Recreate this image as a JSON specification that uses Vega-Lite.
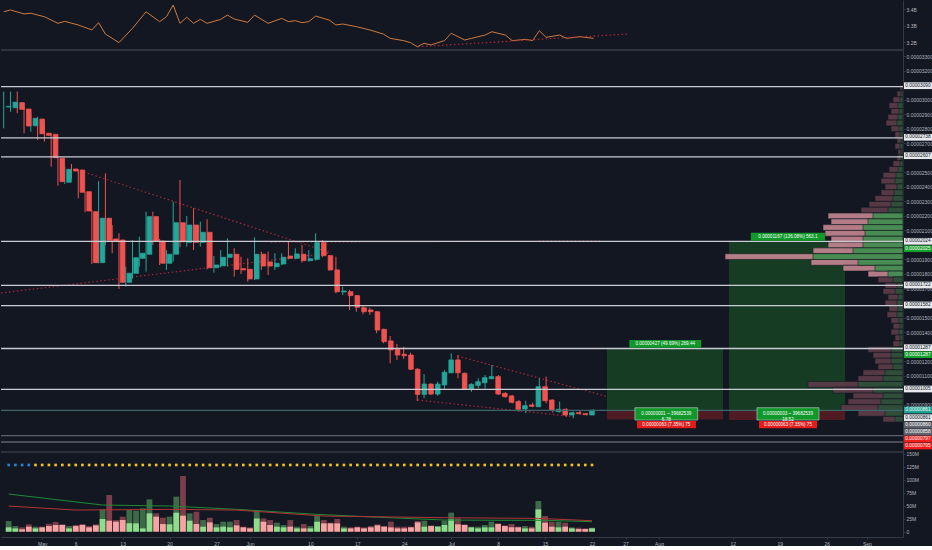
{
"$schema":"https://vega.github.io/schema/vega-lite/v6.json",
"background":"#131722",
"padding":0,
"spacing":0,
"bounds":"flush",
"config":{"font":"Liberation Sans","view":{"stroke":null},"axis":{"labelFont":"Liberation Sans","labelFontSize":5,"labelColor":"#b2b5be","domainColor":"#363a45","tickColor":"#363a45","tickSize":2,"labelPadding":1,"grid":false,"labelOverlap":false}},
"resolve":{"scale":{"x":"independent","y":"independent"}},
"datasets":{
"cd":[
{"t":"2019-04-26","o":2.950e-5,"h":3.056e-5,"l":2.803e-5,"c":2.955e-5,"vd":2.06e7,"vl":8.4e6,"s":0},
{"t":"2019-04-27","o":2.945e-5,"h":3.056e-5,"l":2.918e-5,"c":2.983e-5,"vd":1.09e7,"vl":6.4e6,"s":0},
{"t":"2019-04-28","o":2.980e-5,"h":3.056e-5,"l":2.907e-5,"c":2.934e-5,"vd":8.4e6,"vl":4.5e6,"s":0},
{"t":"2019-04-29","o":2.936e-5,"h":2.952e-5,"l":2.769e-5,"c":2.819e-5,"vd":1.42e7,"vl":9.7e6,"s":0},
{"t":"2019-04-30","o":2.821e-5,"h":2.907e-5,"l":2.780e-5,"c":2.872e-5,"vd":9.7e6,"vl":6.4e6,"s":1},
{"t":"2019-05-01","o":2.867e-5,"h":2.883e-5,"l":2.723e-5,"c":2.766e-5,"vd":9.7e6,"vl":8.4e6,"s":1},
{"t":"2019-05-02","o":2.769e-5,"h":2.831e-5,"l":2.711e-5,"c":2.755e-5,"vd":1.54e7,"vl":1.09e7,"s":1},
{"t":"2019-05-03","o":2.762e-5,"h":2.769e-5,"l":2.539e-5,"c":2.601e-5,"vd":1.87e7,"vl":1.29e7,"s":1},
{"t":"2019-05-04","o":2.597e-5,"h":2.601e-5,"l":2.408e-5,"c":2.436e-5,"vd":1.42e7,"vl":1.29e7,"s":1},
{"t":"2019-05-05","o":2.432e-5,"h":2.539e-5,"l":2.420e-5,"c":2.521e-5,"vd":1.09e7,"vl":6.4e6,"s":1},
{"t":"2019-05-06","o":2.523e-5,"h":2.558e-5,"l":2.459e-5,"c":2.509e-5,"vd":1.29e7,"vl":1.09e7,"s":1},
{"t":"2019-05-07","o":2.516e-5,"h":2.521e-5,"l":2.321e-5,"c":2.363e-5,"vd":1.48e7,"vl":1.29e7,"s":1},
{"t":"2019-05-08","o":2.367e-5,"h":2.367e-5,"l":2.225e-5,"c":2.234e-5,"vd":1.09e7,"vl":8.4e6,"s":1},
{"t":"2019-05-09","o":2.229e-5,"h":2.241e-5,"l":1.869e-5,"c":1.878e-5,"vd":1.42e7,"vl":1.22e7,"s":1},
{"t":"2019-05-10","o":1.878e-5,"h":2.440e-5,"l":1.874e-5,"c":2.184e-5,"vd":4.31e7,"vl":2.45e7,"s":1},
{"t":"2019-05-11","o":2.184e-5,"h":2.494e-5,"l":2.000e-5,"c":2.032e-5,"vd":7.08e7,"vl":2.12e7,"s":1},
{"t":"2019-05-12","o":2.041e-5,"h":2.137e-5,"l":1.943e-5,"c":2.027e-5,"vd":2.25e7,"vl":1.93e7,"s":1},
{"t":"2019-05-13","o":2.034e-5,"h":2.080e-5,"l":1.697e-5,"c":1.743e-5,"vd":2.90e7,"vl":2.25e7,"s":1},
{"t":"2019-05-14","o":1.743e-5,"h":1.850e-5,"l":1.713e-5,"c":1.805e-5,"vd":4.18e7,"vl":1.61e7,"s":1},
{"t":"2019-05-15","o":1.805e-5,"h":2.034e-5,"l":1.770e-5,"c":1.912e-5,"vd":4.05e7,"vl":1.61e7,"s":1},
{"t":"2019-05-16","o":1.908e-5,"h":2.057e-5,"l":1.850e-5,"c":1.943e-5,"vd":4.50e7,"vl":6.4e6,"s":1},
{"t":"2019-05-17","o":1.936e-5,"h":2.229e-5,"l":1.816e-5,"c":2.195e-5,"vd":6.24e7,"vl":3.54e7,"s":1},
{"t":"2019-05-18","o":2.195e-5,"h":2.229e-5,"l":2.000e-5,"c":2.027e-5,"vd":3.54e7,"vl":2.90e7,"s":1},
{"t":"2019-05-19","o":2.027e-5,"h":2.041e-5,"l":1.862e-5,"c":1.874e-5,"vd":2.70e7,"vl":1.48e7,"s":1},
{"t":"2019-05-20","o":1.874e-5,"h":1.965e-5,"l":1.828e-5,"c":1.936e-5,"vd":2.90e7,"vl":1.42e7,"s":1},
{"t":"2019-05-21","o":1.936e-5,"h":2.298e-5,"l":1.885e-5,"c":2.153e-5,"vd":6.76e7,"vl":3.67e7,"s":1},
{"t":"2019-05-22","o":2.153e-5,"h":2.447e-5,"l":1.984e-5,"c":2.022e-5,"vd":1.075e8,"vl":3.09e7,"s":1},
{"t":"2019-05-23","o":2.018e-5,"h":2.199e-5,"l":1.988e-5,"c":2.137e-5,"vd":3.54e7,"vl":2.12e7,"s":1},
{"t":"2019-05-24","o":2.137e-5,"h":2.252e-5,"l":1.965e-5,"c":2.018e-5,"vd":3.86e7,"vl":1.48e7,"s":1},
{"t":"2019-05-25","o":2.018e-5,"h":2.160e-5,"l":1.988e-5,"c":2.087e-5,"vd":2.25e7,"vl":9.7e6,"s":1},
{"t":"2019-05-26","o":2.087e-5,"h":2.177e-5,"l":1.832e-5,"c":1.843e-5,"vd":2.70e7,"vl":1.80e7,"s":1},
{"t":"2019-05-27","o":1.843e-5,"h":1.924e-5,"l":1.809e-5,"c":1.862e-5,"vd":1.48e7,"vl":8.4e6,"s":1},
{"t":"2019-05-28","o":1.857e-5,"h":1.965e-5,"l":1.846e-5,"c":1.915e-5,"vd":1.93e7,"vl":9.7e6,"s":1},
{"t":"2019-05-29","o":1.915e-5,"h":2.046e-5,"l":1.850e-5,"c":1.936e-5,"vd":1.93e7,"vl":8.4e6,"s":1},
{"t":"2019-05-30","o":1.936e-5,"h":1.977e-5,"l":1.781e-5,"c":1.832e-5,"vd":2.25e7,"vl":1.22e7,"s":1},
{"t":"2019-05-31","o":1.837e-5,"h":1.919e-5,"l":1.800e-5,"c":1.828e-5,"vd":9.7e6,"vl":8.4e6,"s":1},
{"t":"2019-06-01","o":1.832e-5,"h":1.908e-5,"l":1.747e-5,"c":1.766e-5,"vd":8.4e6,"vl":6.4e6,"s":1},
{"t":"2019-06-02","o":1.766e-5,"h":2.053e-5,"l":1.759e-5,"c":1.936e-5,"vd":4.05e7,"vl":2.57e7,"s":1},
{"t":"2019-06-03","o":1.936e-5,"h":1.954e-5,"l":1.828e-5,"c":1.855e-5,"vd":2.57e7,"vl":1.93e7,"s":1},
{"t":"2019-06-04","o":1.883e-5,"h":1.954e-5,"l":1.793e-5,"c":1.855e-5,"vd":2.25e7,"vl":1.29e7,"s":1},
{"t":"2019-06-05","o":1.850e-5,"h":1.943e-5,"l":1.828e-5,"c":1.874e-5,"vd":1.74e7,"vl":9.7e6,"s":1},
{"t":"2019-06-06","o":1.869e-5,"h":1.943e-5,"l":1.862e-5,"c":1.915e-5,"vd":1.29e7,"vl":8.4e6,"s":1},
{"t":"2019-06-07","o":1.924e-5,"h":2.022e-5,"l":1.901e-5,"c":1.908e-5,"vd":2.25e7,"vl":9.7e6,"s":1},
{"t":"2019-06-08","o":1.908e-5,"h":1.977e-5,"l":1.901e-5,"c":1.938e-5,"vd":9.7e6,"vl":6.4e6,"s":1},
{"t":"2019-06-09","o":1.936e-5,"h":2.000e-5,"l":1.878e-5,"c":1.892e-5,"vd":1.48e7,"vl":6.4e6,"s":1},
{"t":"2019-06-10","o":1.892e-5,"h":1.965e-5,"l":1.885e-5,"c":1.905e-5,"vd":1.09e7,"vl":6.4e6,"s":1},
{"t":"2019-06-11","o":1.901e-5,"h":2.080e-5,"l":1.892e-5,"c":2.016e-5,"vd":3.02e7,"vl":1.93e7,"s":1},
{"t":"2019-06-12","o":2.016e-5,"h":2.034e-5,"l":1.915e-5,"c":1.926e-5,"vd":2.25e7,"vl":1.61e7,"s":1},
{"t":"2019-06-13","o":1.926e-5,"h":1.931e-5,"l":1.823e-5,"c":1.828e-5,"vd":1.74e7,"vl":1.61e7,"s":1},
{"t":"2019-06-14","o":1.828e-5,"h":1.919e-5,"l":1.667e-5,"c":1.678e-5,"vd":2.45e7,"vl":1.61e7,"s":1},
{"t":"2019-06-15","o":1.676e-5,"h":1.713e-5,"l":1.655e-5,"c":1.683e-5,"vd":9.7e6,"vl":6.4e6,"s":1},
{"t":"2019-06-16","o":1.678e-5,"h":1.690e-5,"l":1.552e-5,"c":1.651e-5,"vd":8.4e6,"vl":6.4e6,"s":1},
{"t":"2019-06-17","o":1.651e-5,"h":1.655e-5,"l":1.540e-5,"c":1.571e-5,"vd":9.7e6,"vl":8.4e6,"s":1},
{"t":"2019-06-18","o":1.568e-5,"h":1.586e-5,"l":1.522e-5,"c":1.540e-5,"vd":8.4e6,"vl":6.4e6,"s":1},
{"t":"2019-06-19","o":1.552e-5,"h":1.568e-5,"l":1.518e-5,"c":1.540e-5,"vd":1.09e7,"vl":8.4e6,"s":1},
{"t":"2019-06-20","o":1.540e-5,"h":1.545e-5,"l":1.392e-5,"c":1.414e-5,"vd":1.42e7,"vl":1.22e7,"s":1},
{"t":"2019-06-21","o":1.419e-5,"h":1.423e-5,"l":1.323e-5,"c":1.334e-5,"vd":1.09e7,"vl":9.7e6,"s":1},
{"t":"2019-06-22","o":1.339e-5,"h":1.373e-5,"l":1.185e-5,"c":1.277e-5,"vd":1.93e7,"vl":8.4e6,"s":1},
{"t":"2019-06-23","o":1.281e-5,"h":1.318e-5,"l":1.208e-5,"c":1.242e-5,"vd":9.7e6,"vl":6.4e6,"s":1},
{"t":"2019-06-24","o":1.247e-5,"h":1.299e-5,"l":1.215e-5,"c":1.237e-5,"vd":9.7e6,"vl":6.4e6,"s":1},
{"t":"2019-06-25","o":1.242e-5,"h":1.258e-5,"l":1.139e-5,"c":1.144e-5,"vd":9.7e6,"vl":8.4e6,"s":1},
{"t":"2019-06-26","o":1.144e-5,"h":1.151e-5,"l":9.25e-6,"c":9.71e-6,"vd":2.06e7,"vl":1.80e7,"s":1},
{"t":"2019-06-27","o":9.71e-6,"h":1.111e-5,"l":9.44e-6,"c":1.042e-5,"vd":2.12e7,"vl":9.7e6,"s":1},
{"t":"2019-06-28","o":1.042e-5,"h":1.047e-5,"l":9.67e-6,"c":9.73e-6,"vd":1.22e7,"vl":1.09e7,"s":1},
{"t":"2019-06-29","o":9.73e-6,"h":1.058e-5,"l":9.62e-6,"c":1.042e-5,"vd":1.09e7,"vl":9.7e6,"s":1},
{"t":"2019-06-30","o":1.036e-5,"h":1.139e-5,"l":1.006e-5,"c":1.123e-5,"vd":2.12e7,"vl":1.29e7,"s":1},
{"t":"2019-07-01","o":1.120e-5,"h":1.254e-5,"l":1.116e-5,"c":1.208e-5,"vd":3.67e7,"vl":2.38e7,"s":1},
{"t":"2019-07-02","o":1.208e-5,"h":1.242e-5,"l":1.082e-5,"c":1.120e-5,"vd":2.57e7,"vl":1.42e7,"s":1},
{"t":"2019-07-03","o":1.116e-5,"h":1.120e-5,"l":1.001e-5,"c":1.006e-5,"vd":1.42e7,"vl":1.29e7,"s":1},
{"t":"2019-07-04","o":1.006e-5,"h":1.047e-5,"l":9.89e-6,"c":1.040e-5,"vd":9.7e6,"vl":8.4e6,"s":1},
{"t":"2019-07-05","o":1.033e-5,"h":1.082e-5,"l":1.013e-5,"c":1.058e-5,"vd":9.7e6,"vl":6.4e6,"s":1},
{"t":"2019-07-06","o":1.051e-5,"h":1.104e-5,"l":1.013e-5,"c":1.086e-5,"vd":1.29e7,"vl":8.4e6,"s":1},
{"t":"2019-07-07","o":1.079e-5,"h":1.173e-5,"l":1.075e-5,"c":1.093e-5,"vd":1.93e7,"vl":8.4e6,"s":1},
{"t":"2019-07-08","o":1.093e-5,"h":1.104e-5,"l":9.67e-6,"c":9.73e-6,"vd":1.61e7,"vl":1.48e7,"s":1},
{"t":"2019-07-09","o":9.78e-6,"h":9.85e-6,"l":9.48e-6,"c":9.55e-6,"vd":1.22e7,"vl":1.09e7,"s":1},
{"t":"2019-07-10","o":9.60e-6,"h":9.67e-6,"l":9.09e-6,"c":9.16e-6,"vd":1.48e7,"vl":8.4e6,"s":1},
{"t":"2019-07-11","o":9.21e-6,"h":9.32e-6,"l":8.52e-6,"c":8.68e-6,"vd":9.7e6,"vl":8.4e6,"s":1},
{"t":"2019-07-12","o":8.70e-6,"h":9.27e-6,"l":8.41e-6,"c":8.93e-6,"vd":1.09e7,"vl":6.4e6,"s":1},
{"t":"2019-07-13","o":8.98e-6,"h":9.14e-6,"l":8.82e-6,"c":8.89e-6,"vd":9.7e6,"vl":6.4e6,"s":1},
{"t":"2019-07-14","o":8.86e-6,"h":1.082e-5,"l":8.82e-6,"c":1.024e-5,"vd":5.92e7,"vl":4.31e7,"s":1},
{"t":"2019-07-15","o":1.024e-5,"h":1.093e-5,"l":9.09e-6,"c":9.27e-6,"vd":3.02e7,"vl":1.74e7,"s":1},
{"t":"2019-07-16","o":9.32e-6,"h":9.37e-6,"l":8.45e-6,"c":8.63e-6,"vd":1.93e7,"vl":9.7e6,"s":1},
{"t":"2019-07-17","o":8.52e-6,"h":9.21e-6,"l":8.45e-6,"c":8.68e-6,"vd":1.93e7,"vl":8.4e6,"s":1},
{"t":"2019-07-18","o":8.68e-6,"h":8.75e-6,"l":8.17e-6,"c":8.29e-6,"vd":1.74e7,"vl":9.7e6,"s":1},
{"t":"2019-07-19","o":8.29e-6,"h":8.52e-6,"l":8.06e-6,"c":8.45e-6,"vd":8.4e6,"vl":6.4e6,"s":1},
{"t":"2019-07-20","o":8.45e-6,"h":8.57e-6,"l":8.29e-6,"c":8.38e-6,"vd":7.7e6,"vl":5.1e6,"s":1},
{"t":"2019-07-21","o":8.38e-6,"h":8.43e-6,"l":8.26e-6,"c":8.31e-6,"vd":6.4e6,"vl":5.1e6,"s":1},
{"t":"2019-07-22","o":8.29e-6,"h":8.70e-6,"l":8.27e-6,"c":8.61e-6,"vd":7.7e6,"vl":6.4e6,"s":1}
],
"ind":[
{"t":"2019-04-26","v":3385000000},{"t":"2019-04-27","v":3396000000},{"t":"2019-04-29","v":3372000000},{"t":"2019-04-30","v":3376000000},
{"t":"2019-05-02","v":3355000000},{"t":"2019-05-04","v":3315000000},{"t":"2019-05-05","v":3327000000},{"t":"2019-05-07","v":3305000000},
{"t":"2019-05-09","v":3275000000},{"t":"2019-05-10","v":3319000000},{"t":"2019-05-11","v":3250000000},{"t":"2019-05-13","v":3198000000},
{"t":"2019-05-15","v":3285000000},{"t":"2019-05-17","v":3385000000},{"t":"2019-05-19","v":3325000000},{"t":"2019-05-20","v":3355000000},
{"t":"2019-05-21","v":3426000000},{"t":"2019-05-22","v":3315000000},{"t":"2019-05-23","v":3352000000},{"t":"2019-05-24","v":3315000000},
{"t":"2019-05-25","v":3339000000},{"t":"2019-05-26","v":3315000000},{"t":"2019-05-28","v":3339000000},{"t":"2019-05-29","v":3365000000},
{"t":"2019-05-30","v":3341000000},{"t":"2019-06-01","v":3321000000},{"t":"2019-06-02","v":3365000000},{"t":"2019-06-04","v":3315000000},
{"t":"2019-06-06","v":3345000000},{"t":"2019-06-07","v":3325000000},{"t":"2019-06-08","v":3331000000},{"t":"2019-06-09","v":3319000000},
{"t":"2019-06-10","v":3325000000},{"t":"2019-06-11","v":3359000000},{"t":"2019-06-13","v":3335000000},{"t":"2019-06-14","v":3305000000},
{"t":"2019-06-15","v":3311000000},{"t":"2019-06-17","v":3295000000},{"t":"2019-06-19","v":3275000000},{"t":"2019-06-21","v":3250000000},
{"t":"2019-06-22","v":3224000000},{"t":"2019-06-24","v":3210000000},{"t":"2019-06-25","v":3198000000},{"t":"2019-06-26","v":3173000000},
{"t":"2019-06-27","v":3194000000},{"t":"2019-06-28","v":3184000000},{"t":"2019-06-30","v":3210000000},{"t":"2019-07-01","v":3255000000},
{"t":"2019-07-03","v":3214000000},{"t":"2019-07-04","v":3224000000},{"t":"2019-07-06","v":3244000000},{"t":"2019-07-07","v":3264000000},
{"t":"2019-07-09","v":3244000000},{"t":"2019-07-10","v":3210000000},{"t":"2019-07-12","v":3218000000},{"t":"2019-07-13","v":3210000000},
{"t":"2019-07-14","v":3270000000},{"t":"2019-07-15","v":3230000000},{"t":"2019-07-17","v":3244000000},{"t":"2019-07-18","v":3224000000},
{"t":"2019-07-20","v":3234000000},{"t":"2019-07-22","v":3224000000}
],
"tlt":[{"t":"2019-06-26T02:24:00Z","v":3173000000},{"t":"2019-07-26T21:36:00Z","v":3250000000}],
"tl":[
{"id":"a","t":"2019-04-25T14:30:00Z","p":1.669e-5},{"id":"a","t":"2019-06-13T06:29:00Z","p":1.945e-5},
{"id":"b","t":"2019-05-07T20:10:00Z","p":2.502e-5},{"id":"b","t":"2019-06-13T06:29:00Z","p":1.945e-5},
{"id":"c","t":"2019-06-04T09:36:00Z","p":2.020e-5},{"id":"c","t":"2019-07-23T02:24:00Z","p":2.027e-5},
{"id":"d","t":"2019-07-01T23:00:00Z","p":1.235e-5},{"id":"d","t":"2019-07-24T02:24:00Z","p":9.55e-6},
{"id":"e","t":"2019-06-26T01:26:00Z","p":9.32e-6},{"id":"e","t":"2019-07-19T02:24:00Z","p":8.17e-6}
],
"vma":[
{"s":"g","t":"2019-04-26","v":72700000},{"s":"g","t":"2019-05-10","v":51500000},{"s":"g","t":"2019-05-20","v":49500000},{"s":"g","t":"2019-05-30","v":43200000},{"s":"g","t":"2019-06-11","v":33500000},{"s":"g","t":"2019-06-20","v":28000000},{"s":"g","t":"2019-06-30","v":22500000},{"s":"g","t":"2019-07-10","v":22000000},{"s":"g","t":"2019-07-15","v":22000000},{"s":"g","t":"2019-07-22","v":19300000},
{"s":"r","t":"2019-04-26","v":49500000},{"s":"r","t":"2019-05-06","v":41800000},{"s":"r","t":"2019-05-20","v":43100000},{"s":"r","t":"2019-05-30","v":41800000},{"s":"r","t":"2019-06-12","v":30200000},{"s":"r","t":"2019-06-30","v":27000000},{"s":"r","t":"2019-07-14","v":25700000},{"s":"r","t":"2019-07-22","v":21200000}
],
"prof":[
{"lo":3.06e-5,"hi":3.10e-5,"tot":3,"up":1},{"lo":3.02e-5,"hi":3.06e-5,"tot":6,"up":2},{"lo":2.98e-5,"hi":3.02e-5,"tot":10,"up":3},{"lo":2.94e-5,"hi":2.98e-5,"tot":14,"up":5},
{"lo":2.90e-5,"hi":2.94e-5,"tot":12,"up":4},{"lo":2.86e-5,"hi":2.90e-5,"tot":15,"up":5},{"lo":2.82e-5,"hi":2.86e-5,"tot":17,"up":6},{"lo":2.78e-5,"hi":2.82e-5,"tot":12,"up":4},
{"lo":2.74e-5,"hi":2.78e-5,"tot":8,"up":3},{"lo":2.70e-5,"hi":2.74e-5,"tot":6,"up":2},{"lo":2.66e-5,"hi":2.70e-5,"tot":8,"up":3},{"lo":2.62e-5,"hi":2.66e-5,"tot":5,"up":2},
{"lo":2.58e-5,"hi":2.62e-5,"tot":6,"up":2},{"lo":2.54e-5,"hi":2.58e-5,"tot":10,"up":3},{"lo":2.50e-5,"hi":2.54e-5,"tot":14,"up":5},{"lo":2.46e-5,"hi":2.50e-5,"tot":20,"up":7},
{"lo":2.42e-5,"hi":2.46e-5,"tot":22,"up":8},{"lo":2.38e-5,"hi":2.42e-5,"tot":18,"up":6},{"lo":2.34e-5,"hi":2.38e-5,"tot":22,"up":9},{"lo":2.30e-5,"hi":2.34e-5,"tot":28,"up":10},
{"lo":2.26e-5,"hi":2.30e-5,"tot":34,"up":12},{"lo":2.22e-5,"hi":2.26e-5,"tot":42,"up":15},{"lo":2.18e-5,"hi":2.22e-5,"tot":75,"up":30},{"lo":2.14e-5,"hi":2.18e-5,"tot":72,"up":35},
{"lo":2.10e-5,"hi":2.14e-5,"tot":80,"up":40},{"lo":2.06e-5,"hi":2.10e-5,"tot":78,"up":38},{"lo":2.02e-5,"hi":2.06e-5,"tot":72,"up":40},{"lo":1.98e-5,"hi":2.02e-5,"tot":75,"up":40},
{"lo":1.94e-5,"hi":1.98e-5,"tot":90,"up":50},{"lo":1.90e-5,"hi":1.94e-5,"tot":178,"up":90},{"lo":1.86e-5,"hi":1.90e-5,"tot":92,"up":45},{"lo":1.82e-5,"hi":1.86e-5,"tot":60,"up":28},
{"lo":1.78e-5,"hi":1.82e-5,"tot":35,"up":15},{"lo":1.74e-5,"hi":1.78e-5,"tot":25,"up":10},{"lo":1.70e-5,"hi":1.74e-5,"tot":18,"up":6},{"lo":1.66e-5,"hi":1.70e-5,"tot":20,"up":8},
{"lo":1.62e-5,"hi":1.66e-5,"tot":15,"up":5},{"lo":1.58e-5,"hi":1.62e-5,"tot":18,"up":6},{"lo":1.54e-5,"hi":1.58e-5,"tot":14,"up":5},{"lo":1.50e-5,"hi":1.54e-5,"tot":16,"up":6},
{"lo":1.46e-5,"hi":1.50e-5,"tot":12,"up":4},{"lo":1.42e-5,"hi":1.46e-5,"tot":10,"up":3},{"lo":1.38e-5,"hi":1.42e-5,"tot":12,"up":4},{"lo":1.34e-5,"hi":1.38e-5,"tot":8,"up":3},
{"lo":1.30e-5,"hi":1.34e-5,"tot":10,"up":3},{"lo":1.26e-5,"hi":1.30e-5,"tot":35,"up":12},{"lo":1.22e-5,"hi":1.26e-5,"tot":30,"up":12},{"lo":1.18e-5,"hi":1.22e-5,"tot":28,"up":12},
{"lo":1.14e-5,"hi":1.18e-5,"tot":25,"up":10},{"lo":1.10e-5,"hi":1.14e-5,"tot":40,"up":18},{"lo":1.06e-5,"hi":1.10e-5,"tot":45,"up":20},{"lo":1.02e-5,"hi":1.06e-5,"tot":95,"up":45},
{"lo":9.8e-6,"hi":1.02e-5,"tot":70,"up":30},{"lo":9.4e-6,"hi":9.8e-6,"tot":50,"up":20},{"lo":9.0e-6,"hi":9.4e-6,"tot":55,"up":22},{"lo":8.6e-6,"hi":9.0e-6,"tot":62,"up":25},
{"lo":8.2e-6,"hi":8.6e-6,"tot":45,"up":18},{"lo":7.8e-6,"hi":8.2e-6,"tot":20,"up":8}
],
"lv":[
{"p":3.09e-5,"k":"w"},{"p":2.738e-5,"k":"w"},{"p":2.607e-5,"k":"w"},{"p":2.024e-5,"k":"w"},{"p":1.722e-5,"k":"w"},{"p":1.582e-5,"k":"w"},{"p":1.287e-5,"k":"w"},{"p":1.005e-5,"k":"w"},{"p":8.61e-6,"k":"t"},{"p":6.863e-6,"k":"g"},{"p":6.429e-6,"k":"g"}
],
"box":[
{"t":"2019-07-23T23:30:00Z","t2":"2019-08-10T02:24:00Z","lo":8.60e-6,"hi":1.287e-5,"k":"tp"},
{"t":"2019-07-23T23:30:00Z","t2":"2019-08-10T02:24:00Z","lo":7.97e-6,"hi":8.60e-6,"k":"sl"},
{"t":"2019-08-10T23:30:00Z","t2":"2019-08-28T02:24:00Z","lo":8.58e-6,"hi":2.025e-5,"k":"tp"},
{"t":"2019-08-10T23:30:00Z","t2":"2019-08-28T02:24:00Z","lo":7.95e-6,"hi":8.58e-6,"k":"sl"}
],
"blab":[
{"t":"2019-07-27T06:29:00Z","t2":"2019-08-06T20:53:00Z","lo":1.292e-5,"hi":1.345e-5,"tm":"2019-08-01T13:41:00Z","pm":1.3185e-5,"txt":"0.00000427 (49.69%) 269.44","k":"g"},
{"t":"2019-08-14T04:48:00Z","t2":"2019-08-25T03:07:00Z","lo":2.029e-5,"hi":2.084e-5,"tm":"2019-08-19T15:58:00Z","pm":2.0565e-5,"txt":"0.00001167 (136.08%) 563.1","k":"g"},
{"t":"2019-07-28T02:24:00Z","t2":"2019-08-06T08:38:00Z","lo":7.94e-6,"hi":8.79e-6,"tm":"2019-08-01T17:31:00Z","pm":8.365e-6,"txt":"0.00000001 ~ 39682539\n6.78","k":"gb"},
{"t":"2019-07-28T09:36:00Z","t2":"2019-08-06T02:24:00Z","lo":7.37e-6,"hi":7.87e-6,"tm":"2019-08-01T17:31:00Z","pm":7.62e-6,"txt":"0.00000063 (7.35%) 75","k":"r"},
{"t":"2019-08-15T02:24:00Z","t2":"2019-08-24T06:00:00Z","lo":7.94e-6,"hi":8.79e-6,"tm":"2019-08-19T16:12:00Z","pm":8.365e-6,"txt":"0.00000003 ~ 39682539\n18.52","k":"gb"},
{"t":"2019-08-15T09:36:00Z","t2":"2019-08-23T23:00:00Z","lo":7.37e-6,"hi":7.87e-6,"tm":"2019-08-19T16:12:00Z","pm":7.62e-6,"txt":"0.00000063 (7.35%) 75","k":"r"}
],
"plab":[
{"txt":"0.00003090","p":3.0968e-5,"k":"w"},{"txt":"0.00002738","p":2.7414e-5,"k":"w"},{"txt":"0.00002607","p":2.6147e-5,"k":"w"},
{"txt":"0.00002024","p":2.0252e-5,"k":"w"},{"txt":"0.00002025","p":1.9742e-5,"k":"g"},{"txt":"0.00001722","p":1.7242e-5,"k":"w"},
{"txt":"0.00001582","p":1.5865e-5,"k":"w"},{"txt":"0.00001287","p":1.2924e-5,"k":"w"},{"txt":"0.00001287","p":1.2441e-5,"k":"g"},
{"txt":"0.00001005","p":1.0079e-5,"k":"w"},{"txt":"0.00000861","p":8.633e-6,"k":"t"},{"txt":"0.00000861","p":8.103e-6,"k":"w"},
{"txt":"0.00000860","p":7.600e-6,"k":"s"},{"txt":"0.00000858","p":7.118e-6,"k":"s"},{"txt":"0.00000797","p":6.636e-6,"k":"r"},
{"txt":"0.00000795","p":6.154e-6,"k":"r"}
]
},
"vconcat":[
{
"width":902,"height":50,
"layer":[
{"data":{"name":"ind"},"mark":{"type":"line","color":"#cf7a3e","strokeWidth":1},
"encoding":{"x":{"field":"t","type":"temporal","scale":{"type":"utc","domain":[1556202420000,1567696920000]},"axis":null},
"y":{"field":"v","type":"quantitative","scale":{"domain":[3153300000,3456400000],"zero":false,"nice":false},"axis":{"orient":"right","title":null,"tickCount":100,"labelOverlap":false,"labelBound":false,"values":[3200000000,3300000000,3400000000],"labelExpr":"format(datum.value/1e9,'.1f')+'B'","domain":true,"ticks":true}}}},
{"data":{"name":"tlt"},"mark":{"type":"line","color":"#b3283a","strokeDash":[1.5,2.5],"strokeWidth":1.2},
"encoding":{"x":{"field":"t","type":"temporal","scale":{"type":"utc","domain":[1556202420000,1567696920000]},"axis":null},"y":{"field":"v","type":"quantitative"}}},
{"data":{"values":[{}]},"mark":{"type":"rule","color":"#3a3e4a","strokeWidth":1.5},"encoding":{"y":{"datum":3153300000,"type":"quantitative"}}}
]
},
{
"width":902,"height":402,
"resolve":{"scale":{"x":"independent"}},
"layer":[
{"data":{"name":"box"},"mark":{"type":"rect"},
"encoding":{"x":{"field":"t","type":"temporal","scale":{"type":"utc","domain":[1556202420000,1567696920000]},"axis":null},"x2":{"field":"t2"},
"y":{"field":"lo","type":"quantitative","scale":{"domain":[5.7403e-6,3.34264e-5],"zero":false,"nice":false},
"axis":{"orient":"right","title":null,"tickCount":100,"labelOverlap":false,"labelBound":false,"values":[9e-6,1.1e-5,1.2e-5,1.4e-5,1.5e-5,1.7e-5,1.8e-5,1.9e-5,2.1e-5,2.2e-5,2.3e-5,2.4e-5,2.5e-5,2.7e-5,2.8e-5,2.9e-5,3e-5,3.2e-5,3.3e-5],"labelExpr":"format(datum.value,'.8f')","domain":true,"ticks":true}},
"y2":{"field":"hi"},
"color":{"condition":{"test":"datum.k=='tp'","value":"#173c24"},"value":"#4f1c24"}}},
{"data":{"name":"prof"},
"layer":[
{"mark":{"type":"rect","opacity":0.9,"stroke":"#131722","strokeWidth":0.6},
"encoding":{"x":{"field":"tot","type":"quantitative","scale":{"domain":[0,902],"reverse":true},"axis":null},"x2":{"datum":0},
"y":{"field":"lo","type":"quantitative"},"y2":{"field":"hi"},
"color":{"condition":{"test":"datum.lo>=1.78e-5 && datum.hi<=2.22e-5","value":"#c48690"},"value":"#5e3d49"}}},
{"mark":{"type":"rect","opacity":0.9,"stroke":"#131722","strokeWidth":0.6},
"encoding":{"x":{"field":"up","type":"quantitative","scale":{"domain":[0,902],"reverse":true},"axis":null},"x2":{"datum":0},
"y":{"field":"lo","type":"quantitative"},"y2":{"field":"hi"},
"color":{"condition":{"test":"datum.lo>=1.78e-5 && datum.hi<=2.22e-5","value":"#3e8e4e"},"value":"#2b5138"}}}
]},
{"data":{"name":"tl"},"mark":{"type":"line","color":"#a8283a","strokeDash":[1.5,2.5],"strokeWidth":1.2,"clip":true},
"encoding":{"x":{"field":"t","type":"temporal","scale":{"type":"utc","domain":[1556202420000,1567696920000]},"axis":null},
"y":{"field":"p","type":"quantitative"},"detail":{"field":"id"}}},
{"data":{"name":"cd"},"mark":{"type":"rule","strokeWidth":1},
"encoding":{"x":{"field":"t","type":"temporal","scale":{"type":"utc","domain":[1556202420000,1567696920000]},"axis":null},
"y":{"field":"l","type":"quantitative"},"y2":{"field":"h"},
"color":{"condition":{"test":"datum.c>=datum.o","value":"#26a69a"},"value":"#ef5350"}}},
{"data":{"name":"cd"},"mark":{"type":"bar","width":4.6,"strokeWidth":0.8},
"encoding":{"x":{"field":"t","type":"temporal","scale":{"type":"utc","domain":[1556202420000,1567696920000]},"axis":null},
"y":{"field":"o","type":"quantitative"},"y2":{"field":"c"},
"color":{"condition":{"test":"datum.c>=datum.o","value":"#26a69a"},"value":"#ef5350"},
"stroke":{"condition":{"test":"datum.c>=datum.o","value":"#26a69a"},"value":"#ef5350"}}},
{"data":{"name":"lv"},"mark":{"type":"rule","strokeWidth":1.3},
"encoding":{"y":{"field":"p","type":"quantitative"},
"color":{"condition":[{"test":"datum.k=='w'","value":"#c9ccd3"},{"test":"datum.k=='t'","value":"#3f6469"}],"value":"#5d606b"}}},
{"data":{"name":"blab"},"mark":{"type":"rect","strokeWidth":0.6},
"encoding":{"x":{"field":"t","type":"temporal","scale":{"type":"utc","domain":[1556202420000,1567696920000]},"axis":null},"x2":{"field":"t2"},
"y":{"field":"lo","type":"quantitative"},"y2":{"field":"hi"},
"color":{"condition":{"test":"datum.k=='r'","value":"#e31b1b"},"value":"#10982a"},
"stroke":{"condition":{"test":"datum.k=='gb'","value":"#cfd3da"},"value":"transparent"}}},
{"data":{"name":"blab"},"mark":{"type":"text","color":"#ffffff","fontSize":4.6,"lineBreak":"\n","baseline":"middle","align":"center"},
"encoding":{"x":{"field":"tm","type":"temporal","scale":{"type":"utc","domain":[1556202420000,1567696920000]},"axis":null},
"y":{"field":"pm","type":"quantitative"},"text":{"field":"txt"}}},
{"data":{"name":"plab"},"mark":{"type":"point","shape":"M-1,-0.24H1V0.24H-1Z","size":784,"filled":true,"opacity":1},
"encoding":{"x":{"datum":1567887840000,"type":"temporal","scale":{"type":"utc","domain":[1556202420000,1567696920000]},"axis":null},
"y":{"field":"p","type":"quantitative"},
"color":{"condition":[{"test":"datum.k=='w'","value":"#e6e8ee"},{"test":"datum.k=='g'","value":"#16a02c"},{"test":"datum.k=='t'","value":"#22a295"},{"test":"datum.k=='s'","value":"#5f626c"}],"value":"#f21c1c"}}},
{"data":{"name":"plab"},"mark":{"type":"text","fontSize":4.8,"baseline":"middle","align":"center"},
"encoding":{"x":{"datum":1567887840000,"type":"temporal","scale":{"type":"utc","domain":[1556202420000,1567696920000]},"axis":null},
"y":{"field":"p","type":"quantitative"},"text":{"field":"txt"},
"color":{"condition":{"test":"datum.k=='w'","value":"#131722"},"value":"#ffffff"}}},
{"data":{"values":[{}]},"mark":{"type":"rule","color":"#363a45","strokeWidth":1.5},"encoding":{"y":{"datum":5.7403e-6,"type":"quantitative"}}}
]
},
{
"width":902,"height":85,
"data":{"name":"cd"},
"layer":[
{"mark":{"type":"bar","width":5.8},
"encoding":{"x":{"field":"t","type":"temporal","scale":{"type":"utc","domain":[1556202420000,1567696920000]},
"axis":{"orient":"bottom","title":null,"tickCount":100,"labelOverlap":false,"values":[1556668800000,1557100800000,1557705600000,1558310400000,1558915200000,1559347200000,1560124800000,1560729600000,1561334400000,1561939200000,1562544000000,1563148800000,1563753600000,1564185600000,1564617600000,1565568000000,1566172800000,1566777600000,1567296000000],
"labelExpr":"utcdate(datum.value)==1 ? utcFormat(datum.value,'%b') : utcFormat(datum.value,'%-d')","domain":true,"ticks":true,"labelPadding":2,"labelFlush":false}},
"y":{"field":"vd","type":"quantitative","scale":{"domain":[-10230000,153860000],"zero":false,"nice":false},
"axis":{"orient":"right","title":null,"tickCount":100,"labelOverlap":false,"labelBound":false,"values":[0,25000000,50000000,75000000,100000000,125000000,150000000],"labelExpr":"datum.value==0 ? '0' : format(datum.value/1e6,'d')+'M'","domain":true,"ticks":true}},
"y2":{"datum":0},
"color":{"condition":{"test":"datum.c>=datum.o","value":"#3d6b48"},"value":"#7a3e4b"}}},
{"mark":{"type":"bar","width":5.8},
"encoding":{"x":{"field":"t","type":"temporal"},
"y":{"field":"vl","type":"quantitative"},"y2":{"datum":0},
"color":{"condition":{"test":"datum.c>=datum.o","value":"#8fdc8c"},"value":"#f5a3a3"}}},
{"data":{"name":"vma"},"mark":{"type":"line","strokeWidth":1},
"encoding":{"x":{"field":"t","type":"temporal"},
"y":{"field":"v","type":"quantitative"},
"color":{"field":"s","type":"nominal","scale":{"domain":["g","r"],"range":["#1f8a35","#b03636"]},"legend":null}}},
{"mark":{"type":"point","shape":"square","filled":true,"size":7,"opacity":1},
"encoding":{"x":{"field":"t","type":"temporal"},
"y":{"datum":128800000,"type":"quantitative"},
"color":{"condition":{"test":"datum.s==1","value":"#f2c41a"},"value":"#2f7fd0"}}}
]
}
]
}
